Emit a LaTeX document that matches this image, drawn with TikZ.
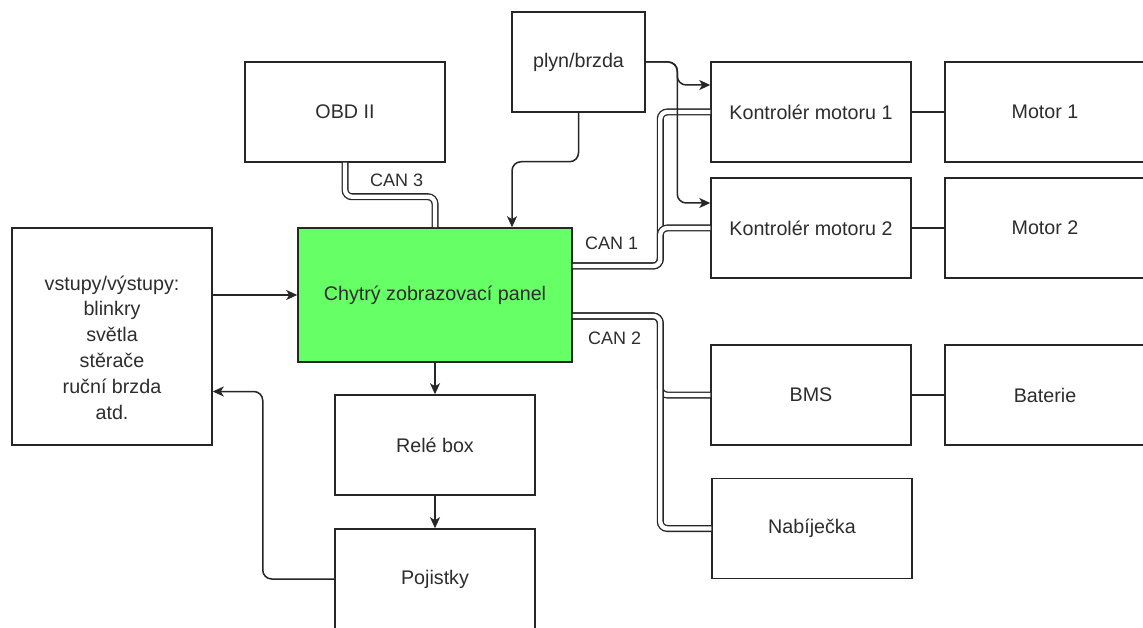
\documentclass[tikz,border=0pt]{standalone}
\usepackage{fontspec}
\setmainfont{Liberation Sans}
\usetikzlibrary{arrows.meta,calc}
\definecolor{boxgreen}{RGB}{102,255,102}
\definecolor{txt}{RGB}{45,45,45}
\begin{document}
\begin{tikzpicture}[x=1pt,y=-1pt,
  box/.style={draw=black!85,line width=1.5pt,fill=white,inner sep=0pt,text=txt,
    font=\fontsize{19.7}{25.8}\selectfont,align=center},
  bw/.style={minimum width=200pt,minimum height=100pt},
  arr/.style={line width=1.5pt,draw=black!85,rounded corners=9pt,
    -{Stealth[length=11pt,width=10pt,inset=3pt]}},
  plain/.style={line width=1.5pt,draw=black!85},
  can/.style={draw=black!85,line width=1.3pt,double=white,double distance=4.4pt,rounded corners=7pt},
  canlbl/.style={anchor=west,inner sep=0pt,text=txt,font=\fontsize{18}{20}\selectfont}
]
\useasboundingbox (0,0) rectangle (1143,628);
\fill[white] (0,0) rectangle (1143,628);

% nodes
\node[box,minimum width=200pt,minimum height=100pt] (obd) at (345,112) {OBD II};
\node[box,minimum width=133pt,minimum height=100pt] (plyn) at (578.5,62) {plyn/brzda};
\node[box,bw] (k1) at (811,112) {Kontrolér motoru 1};
\node[box,bw] (m1) at (1045,112) {Motor 1};
\node[box,bw] (k2) at (811,228) {Kontrolér motoru 2};
\node[box,bw] (m2) at (1045,228) {Motor 2};
\node[box,minimum width=200pt,minimum height=217pt] (io) at (112,336.5) {};
\node[text=txt,font=\fontsize{19.7}{25.8}\selectfont,align=center,inner sep=0pt] (iotext)
  at ($(io.center)+(0,11)$)
  {vstupy/výstupy:\\blinkry\\světla\\stěrače\\ruční brzda\\atd.};
\node[box,fill=boxgreen,minimum width=274pt,minimum height=134pt] (cp) at (435,295) {Chytrý zobrazovací panel};
\node[box,bw] (rele) at (435,445) {Relé box};
\node[box,bw] (poj) at (435,579) {Pojistky};
\node[box,bw] (bms) at (811,395) {BMS};
\node[box,bw] (bat) at (1045,395) {Baterie};
\node[box,bw] (nab) at (812,528.5) {Nabíječka};

% CAN links
\draw[can] (obd.south) -- ++(0,34) -| (cp.north);
\draw[can] ($(cp.east)+(0,-29)$) -| ($(k1.west)+(-50,0)$) -- (k1.west);
\draw[can] ($(cp.east)+(0,-29)$) -| ($(k2.west)+(-50,0)$) -- (k2.west);
\draw[can] ($(cp.east)+(0,21)$) -| ($(bms.west)+(-50,0)$) -- (bms.west);
\draw[can] ($(cp.east)+(0,21)$) -| ($(nab.west)+(-51,0)$) -- (nab.west);

\node[canlbl] (l3) at (370,180) {CAN 3};
\node[canlbl] (l1) at (585,243) {CAN 1};
\node[canlbl] (l2) at (588,338) {CAN 2};

% arrows
\draw[arr] (plyn.south) -- ++(0,49) -| ($(cp.north)+(77,0)$);
\draw[arr] (plyn.east) -| ($(k1.west)+(-33,-27)$) -- ($(k1.west)+(0,-27)$);
\draw[arr] (plyn.east) -| ($(k2.west)+(-33,-25)$) -- ($(k2.west)+(0,-25)$);
\draw[arr] (cp.west -| io.east) -- (cp.west);
\draw[arr] (cp.south) -- (rele.north);
\draw[arr] (rele.south) -- (poj.north);
\draw[arr] (poj.west) -| ($(io.east)+(50,55)$) -- ($(io.east)+(0,55)$);

% plain lines
\draw[plain] (k1.east) -- (m1.west);
\draw[plain] (k2.east) -- (m2.west);
\draw[plain] (bms.east) -- (bat.west);
\end{tikzpicture}
\end{document}
